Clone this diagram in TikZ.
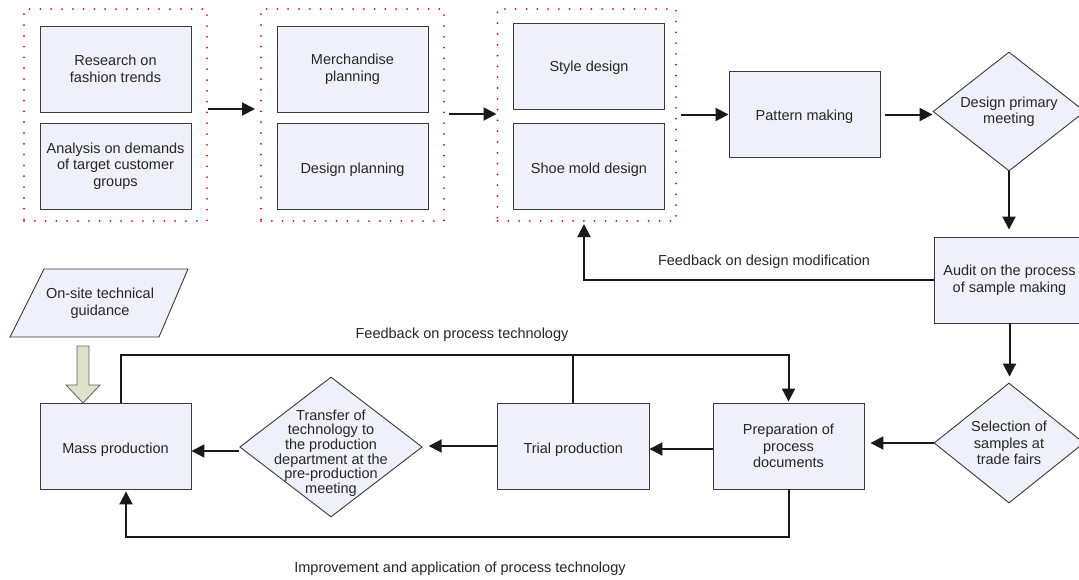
\documentclass[tikz,border=0pt]{standalone}
\usepackage{fontspec}
\setmainfont{Liberation Sans}
\usetikzlibrary{shapes.geometric,arrows.meta}
\definecolor{boxfill}{HTML}{EEF1F9}
\definecolor{boxline}{HTML}{3A3A3A}
\definecolor{txtc}{HTML}{262626}
\definecolor{greenfill}{HTML}{DDE2CB}
\begin{document}
\begin{tikzpicture}[x=1pt,y=-1pt,
  every node/.style={font=\fontsize{14.5}{16.5}\selectfont, text=txtc, align=center},
  box/.style={draw=boxline, line width=0.9pt, fill=boxfill, minimum width=151pt, minimum height=86pt, inner sep=0pt},
  lowtext/.style={text height=15.5pt, text depth=0pt},
  midtext/.style={text height=11.5pt, text depth=0pt},
  dia/.style={diamond, draw=boxline, line width=0.9pt, fill=boxfill, inner sep=0pt},
  grp/.style={draw=red, line width=2pt, dash pattern=on 0pt off 10.8pt, line cap=round, minimum height=212pt, inner sep=0pt},
  flow/.style={line width=2pt, draw=black!90, -{Triangle[length=13pt,width=13pt]}},
  plain/.style={line width=2pt, draw=black!90}]
\useasboundingbox[fill=white] (0,0) rectangle (1079,579);
% groups
\node[grp, minimum width=183pt] (g1) at (115.5,115) {};
\node[box] (r1) at (115.5,69) {Research on\\fashion trends};
\node[box] (r2) at (115.5,166) {Analysis on demands\\of target customer\\groups};
\node[grp, minimum width=183pt] (g2) at (352.5,115) {};
\node[box] (m1) at (352.5,69) {Merchandise\\planning};
\node[box, lowtext] (m2) at (352.5,166) {Design planning};
\node[grp, minimum width=178.5pt] (g3) at (586.75,115) {};
\node[box, midtext] (s1) at (589,66) {Style design};
\node[box, lowtext] (s2) at (589,166) {Shoe mold design};
\node[box, midtext] (pm) at (804.5,114.5) {Pattern making};
\node[dia, minimum width=152pt, minimum height=119pt] (dp) at (1009,111.5) {};
\node (dpt) at (dp) {Design primary\\meeting};
\node[box] (au) at (1009.5,280) {Audit on the process\\of sample making};
\node[dia, minimum width=150pt, minimum height=120pt] (se) at (1009,443) {};
\node (set) at (se) {Selection of\\samples at\\trade fairs};
\node[box] (pr) at (788.5,446) {Preparation of\\process\\documents};
\node[box, minimum width=151.5pt, lowtext] (tp) at (573.25,446) {Trial production};
\node[dia, minimum width=182.5pt, minimum height=140pt] (tt) at (331,447) {};
\node[font=\fontsize{14.5}{14.7}\selectfont] (ttt) at (331,453) {Transfer of\\technology to\\the production\\department at the\\pre-production\\meeting};
\node[box, lowtext] (mp) at (115.5,446) {Mass production};
% on-site guidance
\draw[draw=boxline, line width=0.9pt, fill=boxfill] (44,269) -- (188,269) -- (159,337) -- (10,337) -- cycle;
\node (og) at (100,303) {On-site technical\\guidance};
\draw[draw=boxline!80, line width=0.8pt, fill=greenfill] (77,346) -- (89,346) -- (89,385) -- (100,385) -- (83,403) -- (66,385) -- (77,385) -- cycle;
% connectors
\draw[flow, shorten >=5pt] ([yshift=6pt]g1.east) -- ([yshift=6pt]g2.west);
\draw[flow, shorten <=4pt] ([yshift=1pt]g2.east) -- ([yshift=1pt]g3.west);
\draw[flow, shorten <=4pt] (g3.east |- pm.west) -- (pm.west);
\draw[flow, shorten <=5pt] (pm.east) -- (pm.east -| dp.west);
\draw[flow, shorten >=7pt] (dp.south) -- (dp.south |- au.north);
\draw[flow, shorten >=2pt] (au.west) -| ([xshift=-2.75pt]g3.south);
\draw[flow, shorten >=6pt] (au.south) -- (au.south |- se.north);
\draw[flow, shorten >=6pt] (se.west) -- (se.west -| pr.east);
\draw[flow] ([yshift=-3pt]pr.west) -- ([yshift=-3pt]tp.east);
\draw[flow, shorten >=6pt] (tp.west) -- (tp.west -| tt.east);
\draw[flow] ([yshift=-4pt]tt.west) -- ([yshift=-4pt]tt.west -| mp.east);
\coordinate (ft) at (0,355);
\coordinate (fb) at (0,537);
\draw[flow, shorten >=1pt] ([xshift=5pt]mp.north) |- (ft -| pr.north) -- (pr.north);
\draw[plain] (tp.north) -- (tp.north |- ft);
\draw[flow, shorten >=2pt] (pr.south) |- ([xshift=10.5pt]mp.south |- fb) -- ([xshift=10.5pt]mp.south);
% labels
\node (l1) at (764,262) {Feedback on design modification};
\node (l2) at (462,335) {Feedback on process technology};
\node (l3) at (460,569) {Improvement and application of process technology};
\end{tikzpicture}
\end{document}
